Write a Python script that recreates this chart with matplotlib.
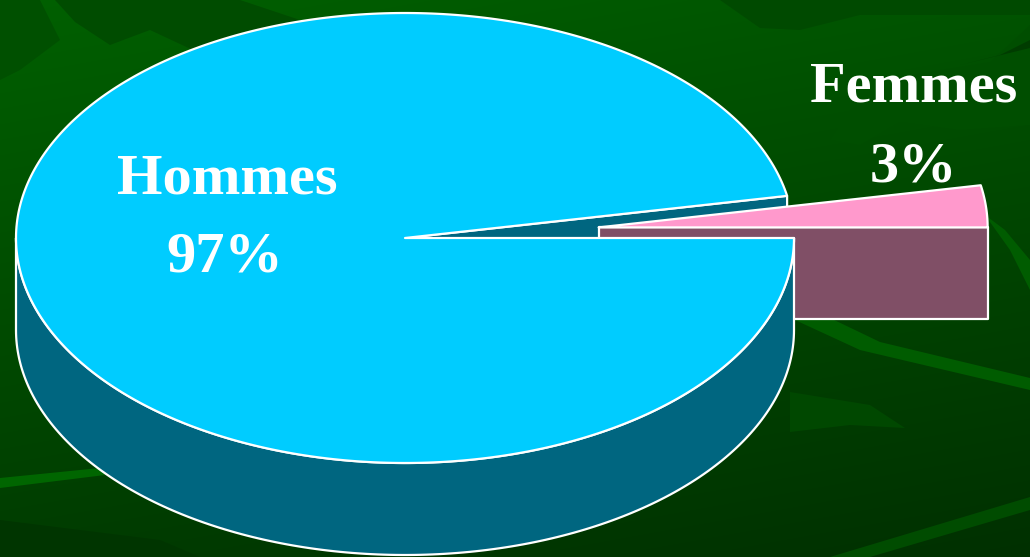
import numpy as np
import matplotlib.pyplot as plt
from matplotlib.patches import Polygon

# Répartition hommes / femmes
labels = ['Hommes', 'Femmes']
values = [97, 3]
top_colors = ['#00CCFF', '#FF99CC']
side_colors = ['#006680', '#804F66']
explode = [0.0, 0.5]

W, H = 1030, 557
fig = plt.figure(figsize=(W / 100, H / 100), dpi=100)
ax = fig.add_axes([0, 0, 1, 1])
ax.set_xlim(0, W)
ax.set_ylim(H, 0)
ax.axis('off')

# fond vert en dégradé
yy, xx = np.mgrid[0:H, 0:W]
t = 0.75 * yy / H + 0.25 * xx / W
c0 = np.array([0x00, 0x60, 0x00]) / 255
c1 = np.array([0x00, 0x30, 0x00]) / 255
bg = c0[None, None, :] * (1 - t[..., None]) + c1[None, None, :] * t[..., None]
ax.imshow(bg, extent=[0, W, H, 0], zorder=0, aspect='auto')

# quelques feuilles dans le fond
leaves = [
    ([(55, 0), (75, 22), (110, 45), (150, 30), (210, 58), (270, 45), (300, 60),
      (330, 30), (240, 0)], '#004C00'),
    ([(0, 0), (40, 0), (60, 40), (20, 70), (0, 80)], '#005000'),
    ([(830, 140), (850, 110), (910, 75), (990, 62), (1030, 25), (1030, 125),
      (960, 130), (900, 122), (860, 145)], '#004E00'),
    ([(720, 0), (760, 28), (800, 30), (860, 15), (1030, 15), (1030, 0)], '#004A00'),
    ([(1000, 55), (1030, 40), (1030, 48), (960, 65)], '#003C00'),
    ([(795, 320), (860, 350), (1030, 390), (1030, 378), (880, 342), (830, 318)], '#005C00'),
    ([(985, 215), (1010, 250), (1030, 290), (1030, 260), (1005, 230)], '#005C00'),
    ([(830, 557), (1030, 497), (1030, 510), (870, 557)], '#004C00'),
    ([(790, 392), (870, 405), (905, 428), (850, 425), (790, 432)], '#004800'),
    ([(0, 478), (100, 468), (105, 475), (0, 488)], '#006600'),
    ([(0, 520), (160, 540), (200, 557), (0, 557)], '#003500'),
]
for pts, col in leaves:
    ax.add_patch(Polygon(pts, closed=True, fc=col, ec='none', zorder=1))

# géométrie du camembert 3D
cx, cy = 405, 238
rx, ry = 389, 225
depth = 92
edge = dict(ec='white', lw=1.6, joinstyle='round')

total = float(sum(values))
femmes_angle = 360.0 * values[1] / total
# Femmes de 0° à 10.8° (vers le haut à droite), Hommes sur le reste
spans = [(femmes_angle, 360.0), (0.0, femmes_angle)]


def pt(theta, ox, oy, dz=0.0):
    a = np.radians(theta)
    return ox + rx * np.cos(a), oy - ry * np.sin(a) + dz


def offset(i):
    a0, a1 = spans[i]
    mid = np.radians((a0 + a1) / 2)
    return cx + explode[i] * rx * np.cos(mid), cy - explode[i] * ry * np.sin(mid)


def radial_face(i, theta, z):
    ox, oy = offset(i)
    ex, ey = pt(theta, ox, oy)
    poly = [(ox, oy), (ex, ey), (ex, ey + depth), (ox, oy + depth)]
    ax.add_patch(Polygon(poly, closed=True, fc=side_colors[i], zorder=z, **edge))


def rim(i, z):
    ox, oy = offset(i)
    a0, a1 = spans[i]
    lo, hi = max(a0, 180.0), min(a1, 360.0)
    if hi <= lo:
        return
    th = np.linspace(lo, hi, 200)
    upper = [pt(t, ox, oy) for t in th]
    lower = [pt(t, ox, oy, depth) for t in th[::-1]]
    ax.add_patch(Polygon(upper + lower, closed=True, fc=side_colors[i], zorder=z, **edge))


def top(i, z):
    ox, oy = offset(i)
    a0, a1 = spans[i]
    th = np.linspace(a0, a1, 400)
    poly = [(ox, oy)] + [pt(t, ox, oy) for t in th]
    ax.add_patch(Polygon(poly, closed=True, fc=top_colors[i], zorder=z, **edge))


# face latérale des hommes visible dans l'ouverture
radial_face(0, spans[0][0], 2)
# part détachée des femmes
radial_face(1, spans[1][0], 3)
top(1, 4)
# corps principal
rim(0, 5)
top(0, 6)

font = dict(family='Liberation Serif', weight='bold', color='white',
            fontsize=42, ha='center', va='baseline', zorder=10)
ax.text(227, 193, labels[0], **font)
ax.text(225, 272, f'{values[0]}%', **font)
ax.text(914, 102, labels[1], **font)
ax.text(913, 182, f'{values[1]}%', **font)

fig.savefig('out.png', dpi=100)
